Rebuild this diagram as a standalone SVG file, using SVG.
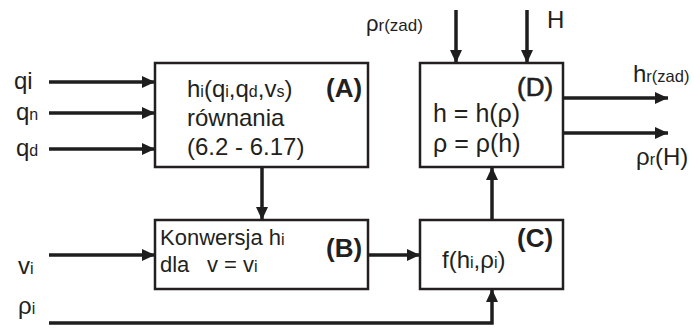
<svg xmlns="http://www.w3.org/2000/svg" width="694" height="329" viewBox="0 0 694 329">
<defs>
<marker id="ah" viewBox="0 0 13 12" refX="13" refY="6" markerWidth="13" markerHeight="12" markerUnits="userSpaceOnUse" orient="auto"><path d="M0,0 L13,6 L0,12 z" fill="#1e1e1e"/></marker>
</defs>
<style>
text{font-family:"Liberation Sans",Arial,sans-serif;fill:#231f20;font-size:24px}
.s{font-size:16px}
.b{font-weight:bold;font-size:26px}
.box{fill:#fff;stroke:#231f20;stroke-width:2.5}
.c{fill:none;stroke:#1e1e1e;stroke-width:3.5}
.a{marker-end:url(#ah)}
</style>
<rect width="694" height="329" fill="#fff"/>
<g id="connectors">
<path class="c a" d="M49,82H155"/>
<path class="c a" d="M49,113H155"/>
<path class="c a" d="M49,149H155"/>
<path class="c a" d="M49,255H155"/>
<path class="c a" d="M262,167V220"/>
<path class="c a" d="M368,255H420"/>
<path class="c a" d="M49,323H492V289"/>
<path class="c a" d="M492,220V167"/>
<path class="c a" d="M456,10V63"/>
<path class="c a" d="M527,10V63"/>
<path class="c a" d="M563,98H668"/>
<path class="c a" d="M563,133H668"/>
</g>
<g id="labels">
<text x="14" y="89">qi</text>
<text x="16" y="120">q<tspan class="s">n</tspan></text>
<text x="16" y="156">q<tspan class="s">d</tspan></text>
<text x="18" y="274">v<tspan class="s">i</tspan></text>
<text x="18" y="314">ρ<tspan class="s">i</tspan></text>
<text x="366" y="31" style="font-size:22px">ρ<tspan class="s" style="font-size:17px">r(zad)</tspan></text>
<text x="547" y="28">H</text>
<text x="633" y="82">h<tspan class="s" style="font-size:16.5px">r(zad)</tspan></text>
<text x="636" y="165">ρ<tspan class="s">r</tspan>(H)</text>
</g>
<g id="A">
<rect class="box" x="155" y="63" width="213" height="104"/>
<text x="187" y="97">h<tspan class="s">i</tspan>(q<tspan class="s">i</tspan>,q<tspan class="s">d</tspan>,v<tspan class="s">s</tspan>)</text>
<text x="326" y="97" class="b">(A)</text>
<text x="187" y="126">równania</text>
<text x="187" y="155">(6.2 - 6.17)</text>
</g>
<g id="B">
<rect class="box" x="155" y="220" width="213" height="69"/>
<text x="160" y="245" style="font-size:22px">Konwersja h<tspan class="s">i</tspan></text>
<text x="326" y="257" class="b">(B)</text>
<text x="160" y="272" style="font-size:22px">dla</text>
<text x="207" y="272" style="font-size:22px">v = v<tspan class="s">i</tspan></text>
</g>
<g id="C">
<rect class="box" x="420" y="220" width="143" height="69"/>
<text x="442" y="268">f(h<tspan class="s">i</tspan>,ρ<tspan class="s">i</tspan>)</text>
<text x="517" y="247" class="b">(C)</text>
</g>
<g id="D">
<rect class="box" x="420" y="63" width="143" height="104"/>
<text x="517" y="96" style="font-size:26px;stroke:#231f20;stroke-width:0.6">(D)</text>
<text x="433" y="122" style="font-size:25px">h = h(ρ)</text>
<text x="433" y="152" style="font-size:25px">ρ = ρ(h)</text>
</g>
</svg>
